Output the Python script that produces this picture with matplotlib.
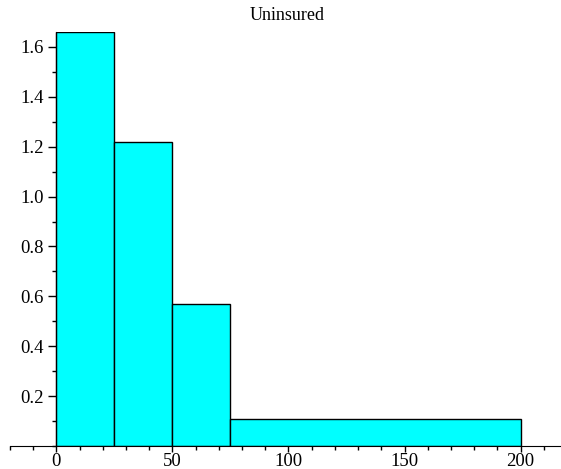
import matplotlib
matplotlib.use('Agg')
import matplotlib.pyplot as plt
from matplotlib.ticker import MultipleLocator

# histogram bins and heights (density, area sums to 100)
bin_edges = [0, 25, 50, 75, 200]
heights = [1.66, 1.22, 0.57, 0.11]
title = "Uninsured"
ytick_vals = [0.2, 0.4, 0.6, 0.8, 1.0, 1.2, 1.4, 1.6]

plt.rcParams['font.family'] = ['Liberation Serif', 'DejaVu Serif']

fig = plt.figure(figsize=(5.61, 4.69), dpi=100)
ax = fig.add_axes([10 / 561, 23 / 469, 550 / 561, 414 / 469])

lefts = bin_edges[:-1]
widths = [b - a for a, b in zip(bin_edges[:-1], bin_edges[1:])]
ax.bar(lefts, heights, width=widths, align='edge', color='#00ffff',
       edgecolor='black', linewidth=1.0, zorder=2)

ax.set_xlim(-20, 217)
ax.set_ylim(0, max(heights))

for s in ('top', 'right'):
    ax.spines[s].set_visible(False)
ax.spines['left'].set_position(('data', 0))
ax.spines['bottom'].set_position(('data', 0))
ax.spines['left'].set_zorder(3)
ax.spines['bottom'].set_zorder(3)

ax.xaxis.set_major_locator(MultipleLocator(50))
ax.xaxis.set_minor_locator(MultipleLocator(10))
ax.yaxis.set_minor_locator(MultipleLocator(0.1))
ax.set_yticks(ytick_vals)
ax.set_yticklabels([f"{v:.1f}" for v in ytick_vals])

ax.tick_params(axis='y', which='major', direction='out', length=6, width=1,
               labelsize=13.5, pad=3)
ax.tick_params(axis='x', which='major', direction='out', length=4, width=1,
               labelsize=13.5, pad=1)
ax.tick_params(which='minor', direction='out', length=3, width=1)

fig.text(287 / 561, 1 - 16 / 469, title, ha='center', va='center', fontsize=13)

fig.savefig('out.png', dpi=100)
